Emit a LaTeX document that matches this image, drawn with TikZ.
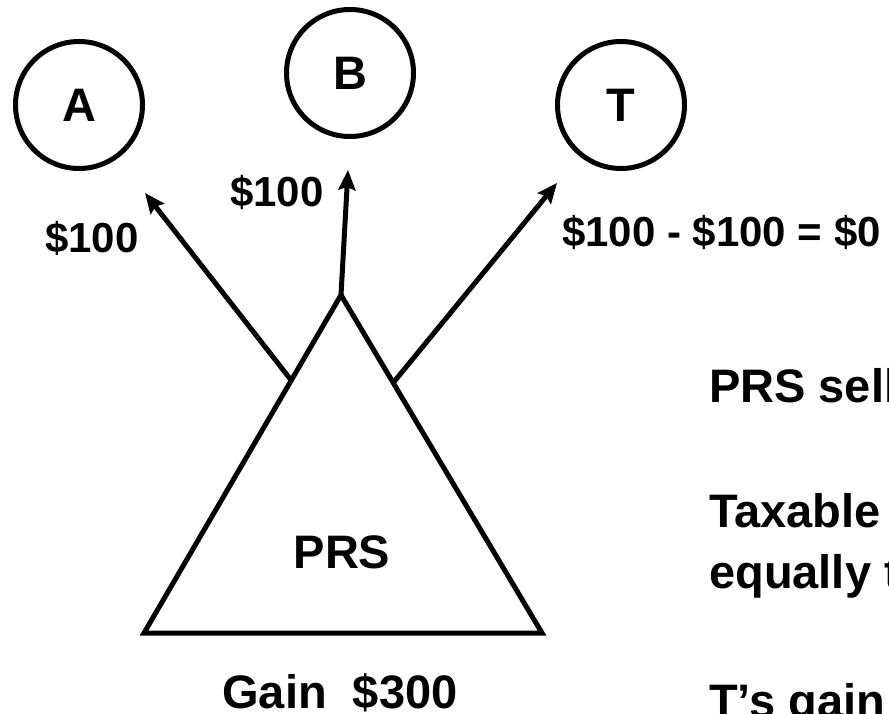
\documentclass[tikz,border=0pt]{standalone}
\usepackage{fontspec}
\setmainfont{Liberation Sans}
\usetikzlibrary{arrows.meta}
\begin{document}
\begin{tikzpicture}[x=1pt,y=-1pt,
  party/.style={circle,draw,line width=5pt,minimum size=127pt,inner sep=0pt,
    font=\fontsize{47}{56}\selectfont\bfseries},
  flow/.style={line width=5pt,-{Stealth[length=20pt,width=17pt,inset=3pt]}},
  amount/.style={anchor=base west,inner sep=0pt,font=\fontsize{42}{50}\selectfont\bfseries},
  note/.style={anchor=base west,inner sep=0pt,font=\fontsize{47}{56}\selectfont\bfseries}]
\clip (0,0) rectangle (889,714);
\fill[white] (0,0) rectangle (889,714);

% partners
\node[party] (A) at (79,105) {A};
\node[party] (B) at (350,73) {B};
\node[party] (T) at (621,105) {T};

% partnership triangle
\coordinate (apex) at (341,295);
\coordinate (bl) at (144,633);
\coordinate (br) at (542,633);
\draw[line width=5pt,line join=miter] (apex) -- (bl) -- (br) -- cycle;
\node[note,anchor=base] (prs) at (342,568) {PRS};
\node[note,anchor=base] (gain) at (340,708) {Gain\ \ \$300};

% allocations to partners
\coordinate (sa) at (291,380);
\coordinate (st) at (393,383);
\coordinate (ta) at (145,193);
\coordinate (tb) at (348,170);
\coordinate (tt) at (557,183);
\draw[flow] (sa) -- (ta);
\draw[flow] (apex) -- (tb);
\draw[flow] (st) -- (tt);

\node[amount] (la) at (45,252) {\$100};
\node[amount] (lb) at (230,207) {\$100};
\node[amount] (lt) at (562,247) {\$100 - \$100 = \$0};

% explanation
\node[note] (n1) at (709,402) {PRS sells};
\node[note] (n2) at (709,527) {Taxable};
\node[note] (n3) at (709,588) {equally to};
\node[note] (n4) at (709,717) {T’s gain};
\end{tikzpicture}
\end{document}
